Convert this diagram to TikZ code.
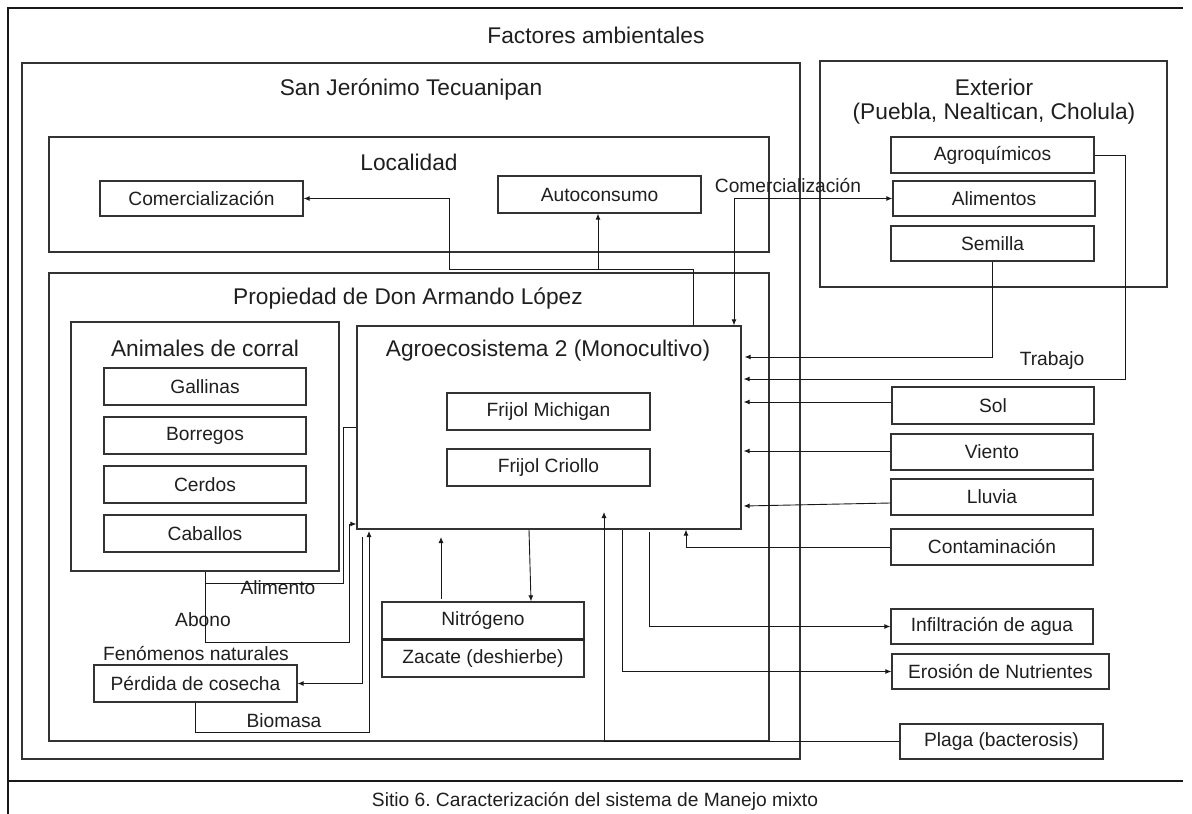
\documentclass[tikz,border=0pt]{standalone}
\usepackage{fontspec}
\setmainfont{Liberation Sans}
\usetikzlibrary{arrows.meta,fit}
\frenchspacing
\begin{document}
\begin{tikzpicture}[x=1pt,y=-1pt,
  bx/.style={draw=black!80, line width=1.3pt, inner sep=0pt,
    label={[lbl]center:#1}},
  cont/.style={draw=black!80, line width=1.3pt, inner sep=0pt},
  ttl/.style={text=black!88, inner sep=0pt, font=\fontsize{22.7}{27}\selectfont},
  lbl/.style={text=black!88, inner sep=0pt, font=\fontsize{19.2}{23}\selectfont},
  conn/.style={draw=black!90, line width=0.9pt},
  arr/.style={conn, -{Latex[length=6pt,width=5pt]}},
  arrb/.style={conn, {Latex[length=6pt,width=5pt]}-{Latex[length=6pt,width=5pt]}}]
\fill[white] (0,0) rectangle (1192,814);
\useasboundingbox (0,0) rectangle (1192,814);
% outer frame
\draw[line width=1.8pt, black!90] (8,814) -- (8,8) -- (1183,8);
\draw[line width=1.6pt, black!90] (8,781) -- (1183,781);
\node[ttl] (factores) at (596,35) {Factores ambientales};
\node[lbl] (caption) at (595,801) {Sitio 6. Caracterización del sistema de Manejo mixto};
% containers
\node[cont, fit={(22,63) (800,759)}] (sj) {};
\node[ttl] (sjt) at (411,89) {San Jerónimo Tecuanipan};
\node[cont, fit={(49,137) (769,252)}] (loc) {};
\node[ttl] (loct) at (409,162) {Localidad};
\node[cont, fit={(49,273) (769,741)}] (prop) {};
\node[ttl] (propt) at (408,298) {Propiedad de Don Armando López};
\node[cont, fit={(71,322) (339,571)}] (anim) {};
\node[ttl] (animt) at (205,348) {Animales de corral};
\node[cont, fit={(357,326) (741,529)}] (agro) {};
\node[ttl] (agrot) at (548,351) {Agroecosistema 2 (Monocultivo)};
\node[cont, fit={(820,61) (1167,287)}] (ext) {};
\node[ttl] (extt) at (994,87) {Exterior};
\node[ttl] (exts) at (994,114) {(Puebla, Nealtican, Cholula)};
% boxes
\node[bx=Comercialización, fit={(100,181) (303,216)}] (comL) {};
\node[bx=Autoconsumo, fit={(498,176) (701,213)}] (autoc) {};
\node[bx=Gallinas, fit={(104,368) (306,405)}] (gall) {};
\node[bx=Borregos, fit={(104,417) (306,454)}] (borr) {};
\node[bx=Cerdos, fit={(104,466) (306,503)}] (cerd) {};
\node[bx=Caballos, fit={(104,515) (306,552)}] (cab) {};
\node[bx=Frijol Michigan, fit={(447,393) (650,430)}] (fm) {};
\node[bx=Frijol Criollo, fit={(447,449) (650,486)}] (fc) {};
\node[bx=Nitrógeno, fit={(382,602) (584,639)}] (nitro) {};
\node[bx={Zacate (deshierbe)}, fit={(382,640) (584,677)}] (zac) {};
\draw[line width=2.6pt, black!85] (nitro.south west) -- (nitro.south east);
\node[bx=Pérdida de cosecha, fit={(94,665) (297,702)}] (perd) {};
\node[bx=Agroquímicos, fit={(891,137) (1094,173)}] (agroq) {};
\node[bx=Alimentos, fit={(893,181) (1095,216)}] (alim) {};
\node[bx=Semilla, fit={(891,226) (1094,261)}] (sem) {};
\node[bx=Sol, fit={(892,387) (1094,424)}] (sol) {};
\node[bx=Viento, fit={(891,434) (1093,470)}] (vie) {};
\node[bx=Lluvia, fit={(891,479) (1093,515)}] (llu) {};
\node[bx=Contaminación, fit={(891,529) (1093,565)}] (con) {};
\node[bx=Infiltración de agua, fit={(891,609) (1093,644)}] (inf) {};
\node[bx=Erosión de Nutrientes, fit={(892,654) (1109,689)}] (ero) {};
\node[bx={Plaga (bacterosis)}, fit={(900,724) (1103,759)}] (pla) {};
% labels
\node[lbl] (lcom) at (788,186) {Comercialización};
\node[lbl] (ltrab) at (1052,361) {Trabajo};
\node[lbl] (lalim) at (278,588) {Alimento};
\node[lbl] (labo) at (203,620) {Abono};
\node[lbl] (lbio) at (284,721) {Biomasa};
\node[lbl] (lfen) at (196,654) {Fenómenos naturales};
% connectors
\draw[arr] (693,0 |- agro.north) |- (598,269) -- (598,0 |- autoc.south);
\draw[arr] (693,0 |- agro.north) |- (449,269) |- (comL.east);
\draw[arrb] (alim.west) -| (734,0 |- agro.north);
\draw[arr, shorten >=-1pt] (sem.south) |- ([xshift=4pt]agro.east |- 0,357);
\draw[arr] (agroq.east) -- (1125,0 |- agroq.east) |- ([xshift=2pt]agro.east |- 0,379);
\draw[arr] (sol.west |- 0,402) -- ([xshift=2pt]agro.east |- 0,402);
\draw[arr] (vie.west |- 0,451) -- ([xshift=2pt]agro.east |- 0,451);
\draw[arr] (llu.west |- 0,503) -- ([xshift=2pt]agro.east |- 0,506);
\draw[arr] (con.west) -| (686,0 |- agro.south);
\draw[arr] (649,532) |- (inf.west);
\draw[arr] (622,0 |- agro.south) |- (ero.west);
\draw[arr] (pla.west) -| (604,512);
\draw[arr] (529,0 |- agro.south) -- (531,0 |- nitro.north);
\draw[arr] (441,599) -- (441,537);
\draw[conn] (agro.west |- 0,427) -| (343,583) -- (206,583);
\draw[arr] (anim.south) |- (349,642) |- (agro.west |- 0,524);
\draw[arr] (362,537) |- (perd.east);
\draw[arr] (perd.south) |- (369,732) -- (369,531);
\end{tikzpicture}
\end{document}
